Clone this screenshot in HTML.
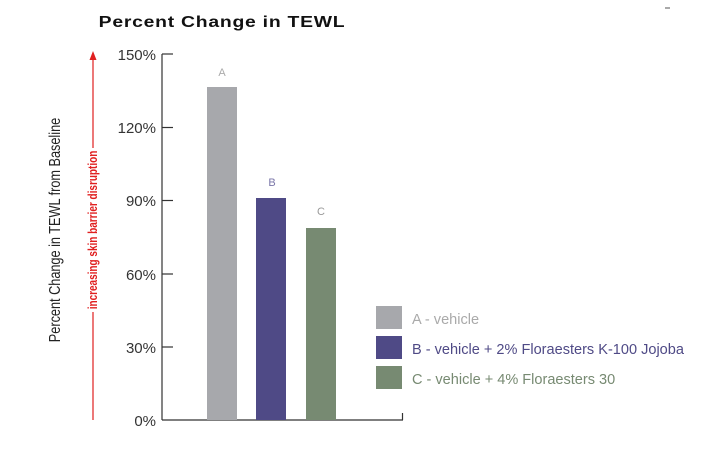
<!DOCTYPE html>
<html><head><style>
body{margin:0;background:#fff}
svg{display:block}
text{font-family:"Liberation Sans",sans-serif}
</style></head><body>
<svg width="715" height="473" viewBox="0 0 715 473">
<rect width="715" height="473" fill="#fff"/>
<text transform="translate(222,27) scale(1.25,1)" x="0" y="0" font-size="15.5" font-weight="bold" text-anchor="middle" fill="#111" letter-spacing="0.6">Percent Change in TEWL</text>
<line x1="665" y1="8" x2="670" y2="8" stroke="#555"/>
<text transform="translate(60,230) rotate(-90) scale(0.82,1)" font-size="15.5" text-anchor="middle" fill="#222">Percent Change in TEWL from Baseline</text>
<line x1="93" y1="58" x2="93" y2="420" stroke="#e02020" stroke-width="1.2"/>
<polygon points="93,51 89.5,60 96.5,60" fill="#e02020"/>
<rect x="86" y="148" width="14" height="164" fill="#fff"/>
<text transform="translate(97,230) rotate(-90) scale(0.8,1)" font-size="12.5" font-weight="bold" text-anchor="middle" fill="#e02020">increasing skin barrier disruption</text>
<g stroke="#333" stroke-width="1.2">
<line x1="162" y1="54" x2="162" y2="420"/>
<line x1="162" y1="420" x2="403" y2="420"/>
<line x1="402.5" y1="413" x2="402.5" y2="420"/>
<line x1="162" y1="54" x2="173" y2="54"/>
<line x1="162" y1="127.5" x2="173" y2="127.5"/>
<line x1="162" y1="200.5" x2="173" y2="200.5"/>
<line x1="162" y1="274" x2="173" y2="274"/>
<line x1="162" y1="347" x2="173" y2="347"/>
</g>
<g font-size="15" fill="#333" text-anchor="end">
<text x="156" y="60">150%</text>
<text x="156" y="133">120%</text>
<text x="156" y="206">90%</text>
<text x="156" y="280">60%</text>
<text x="156" y="353">30%</text>
<text x="156" y="426">0%</text>
</g>
<rect x="207" y="87" width="30" height="333" fill="#a7a8ac"/>
<rect x="256" y="198" width="30" height="222" fill="#4f4a86"/>
<rect x="306" y="228" width="30" height="192" fill="#778a72"/>
<g font-size="11" text-anchor="middle">
<text x="222" y="76" fill="#aaa">A</text>
<text x="272" y="186" fill="#7a76a8">B</text>
<text x="321" y="215" fill="#999">C</text>
</g>
<rect x="376" y="306" width="26" height="23" fill="#a7a8ac"/>
<rect x="376" y="336" width="26" height="23" fill="#4f4a86"/>
<rect x="376" y="366" width="26" height="23" fill="#778a72"/>
<g font-size="15">
<text x="412" y="324" fill="#aaa" transform="translate(412,0) scale(0.97,1) translate(-412,0)">A - vehicle</text>
<text x="412" y="354" fill="#4f4a86" transform="translate(412,0) scale(0.97,1) translate(-412,0)">B - vehicle + 2% Floraesters K-100 Jojoba</text>
<text x="412" y="384" fill="#778a72" transform="translate(412,0) scale(0.97,1) translate(-412,0)">C - vehicle + 4% Floraesters 30</text>
</g>
</svg>
</body></html>
